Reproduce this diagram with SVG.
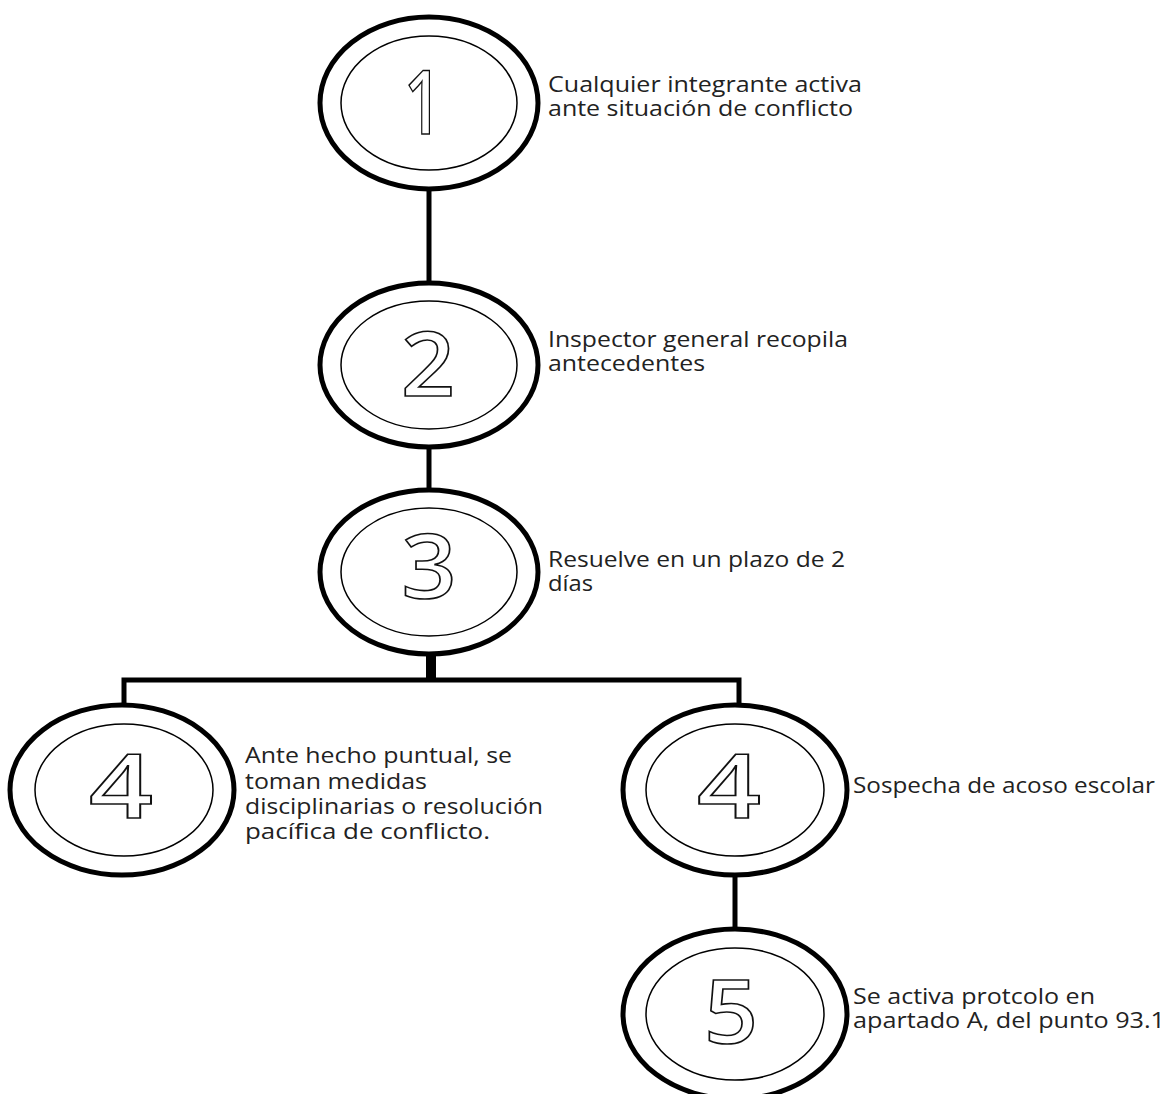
<svg xmlns="http://www.w3.org/2000/svg" width="1173" height="1094" viewBox="0 0 1173 1094">
<style>
.outer{fill:#fff;stroke:#000;stroke-width:5}
.inner{fill:#fff;stroke:#000;stroke-width:1.5}
.num{font-family:"Open Sans","Liberation Sans",sans-serif;font-size:88px;font-weight:600;fill:#fff;stroke:#111;stroke-width:1.6;text-anchor:middle}
.lbl{font-family:"Open Sans","Liberation Sans",sans-serif;font-size:21px;fill:#222}
.conn{stroke:#000;stroke-width:5;fill:none}
</style>
<rect width="1173" height="1094" fill="#fff"/>
<g id="connectors">
<line class="conn" x1="429" y1="188" x2="429" y2="284"/>
<line class="conn" x1="429" y1="446" x2="429" y2="492"/>
<line x1="431" y1="652" x2="431" y2="680" stroke="#000" stroke-width="10"/>
<polyline class="conn" points="124,706 124,680 739,680 739,706"/>
<line class="conn" x1="735" y1="874" x2="735" y2="930"/>
</g>
<g id="node1">
<ellipse class="outer" cx="429" cy="103" rx="109" ry="86"/>
<ellipse class="inner" cx="429" cy="103" rx="88" ry="67"/>
<text class="num" x="423" y="134" textLength="38" lengthAdjust="spacingAndGlyphs">1</text>
<text class="lbl" x="548" y="92" textLength="314" lengthAdjust="spacingAndGlyphs">Cualquier integrante activa</text>
<text class="lbl" x="548" y="116" textLength="305" lengthAdjust="spacingAndGlyphs">ante situación de conflicto</text>
</g>
<g id="node2">
<ellipse class="outer" cx="429" cy="365" rx="109" ry="82"/>
<ellipse class="inner" cx="429" cy="365" rx="88" ry="64"/>
<text class="num" x="428" y="396" textLength="54" lengthAdjust="spacingAndGlyphs">2</text>
<text class="lbl" x="548" y="347" textLength="300" lengthAdjust="spacingAndGlyphs">Inspector general recopila</text>
<text class="lbl" x="548" y="371" textLength="157" lengthAdjust="spacingAndGlyphs">antecedentes</text>
</g>
<g id="node3">
<ellipse class="outer" cx="429" cy="572" rx="109" ry="82"/>
<ellipse class="inner" cx="429" cy="572" rx="88" ry="64"/>
<text class="num" x="429" y="598" textLength="55" lengthAdjust="spacingAndGlyphs">3</text>
<text class="lbl" x="548" y="567" textLength="297" lengthAdjust="spacingAndGlyphs">Resuelve en un plazo de 2</text>
<text class="lbl" x="548" y="591" textLength="45" lengthAdjust="spacingAndGlyphs">días</text>
</g>
<g id="node4a">
<ellipse class="outer" cx="122" cy="790" rx="112" ry="85"/>
<ellipse class="inner" cx="124" cy="790" rx="89" ry="66"/>
<text class="num" x="121" y="818" textLength="64" lengthAdjust="spacingAndGlyphs">4</text>
<text class="lbl" x="245" y="763" textLength="267" lengthAdjust="spacingAndGlyphs">Ante hecho puntual, se</text>
<text class="lbl" x="245" y="789" textLength="182" lengthAdjust="spacingAndGlyphs">toman medidas</text>
<text class="lbl" x="245" y="814" textLength="298" lengthAdjust="spacingAndGlyphs">disciplinarias o resolución</text>
<text class="lbl" x="245" y="839" textLength="245" lengthAdjust="spacingAndGlyphs">pacífica de conflicto.</text>
</g>
<g id="node4b">
<ellipse class="outer" cx="735" cy="790" rx="112" ry="85"/>
<ellipse class="inner" cx="735" cy="790" rx="89" ry="66"/>
<text class="num" x="729" y="818" textLength="64" lengthAdjust="spacingAndGlyphs">4</text>
<text class="lbl" x="853" y="793" textLength="302" lengthAdjust="spacingAndGlyphs">Sospecha de acoso escolar</text>
</g>
<g id="node5">
<ellipse class="outer" cx="735" cy="1014" rx="112" ry="85"/>
<ellipse class="inner" cx="735" cy="1014" rx="89" ry="66"/>
<text class="num" x="731" y="1043" textLength="54" lengthAdjust="spacingAndGlyphs">5</text>
<text class="lbl" x="853" y="1004" textLength="242" lengthAdjust="spacingAndGlyphs">Se activa protcolo en</text>
<text class="lbl" x="853" y="1028" textLength="312" lengthAdjust="spacingAndGlyphs">apartado A, del punto 93.1</text>
</g>
</svg>
